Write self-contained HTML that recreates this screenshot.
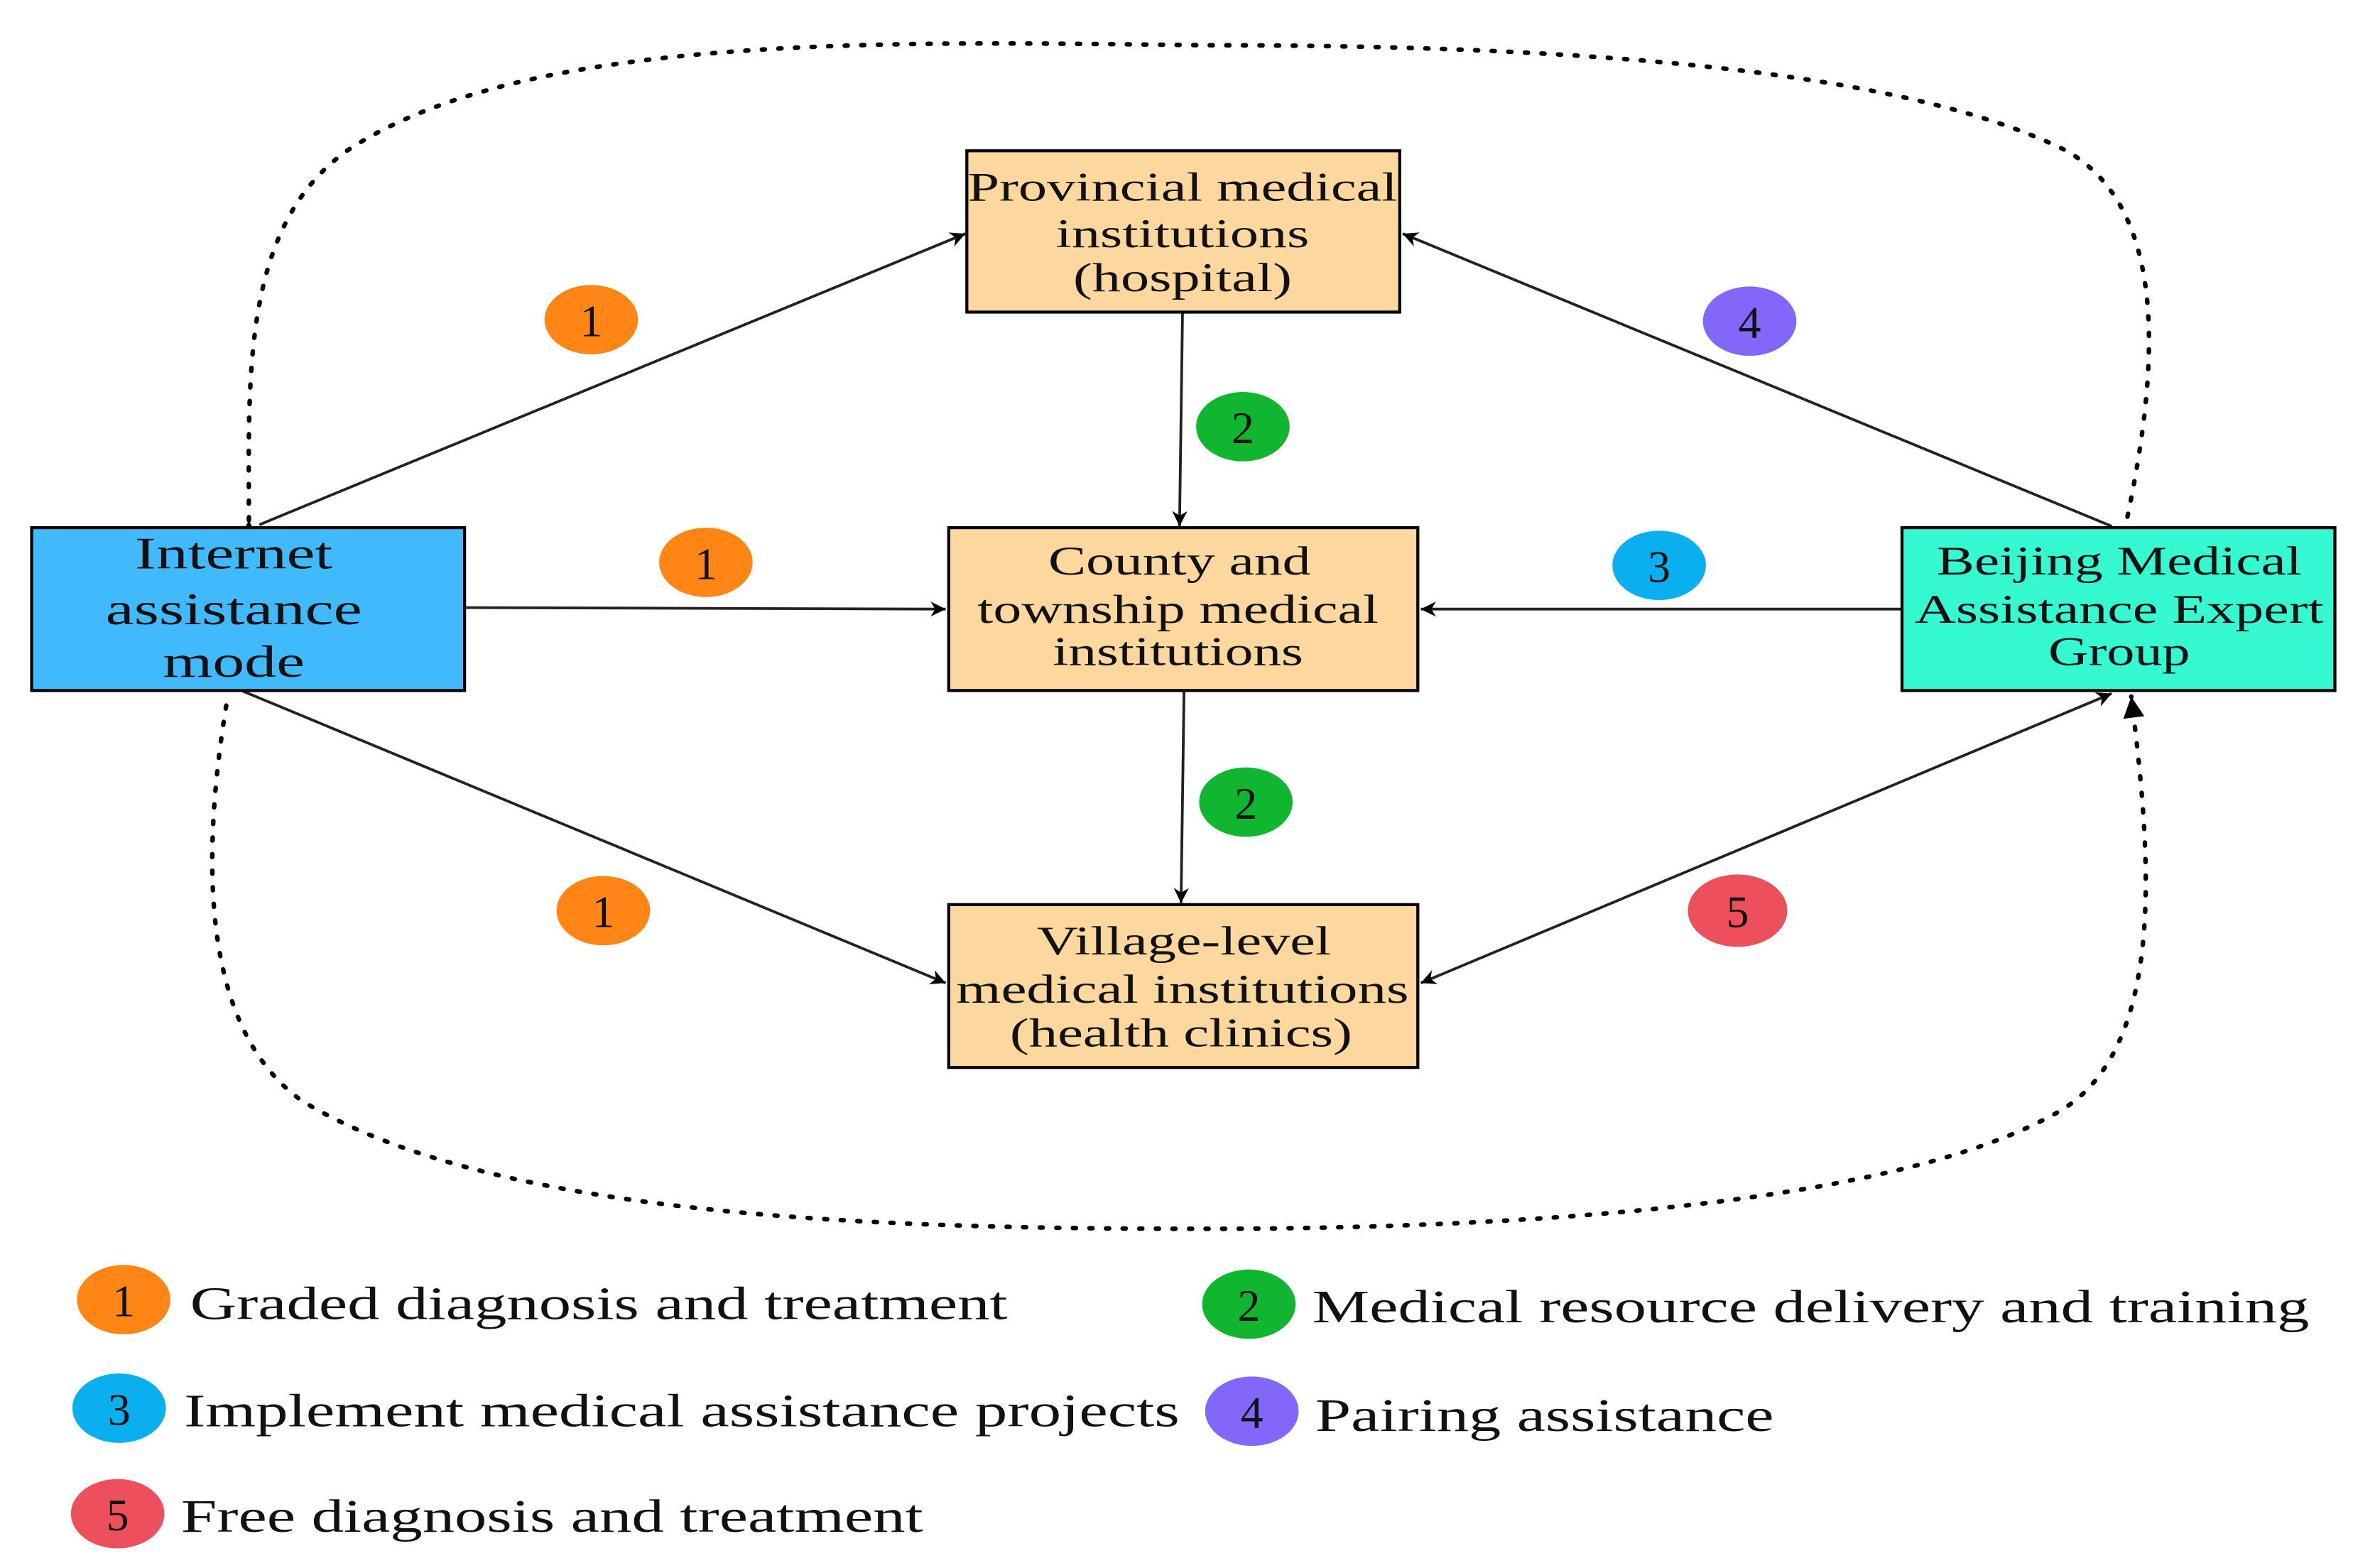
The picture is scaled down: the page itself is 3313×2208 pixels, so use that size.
<!DOCTYPE html>
<html><head><meta charset="utf-8"><style>html,body{margin:0;padding:0;background:#fff}svg{display:block}</style></head>
<body>
<svg width="3313" height="2208" viewBox="0 0 1560 1040" preserveAspectRatio="none" xmlns="http://www.w3.org/2000/svg" font-family="Liberation Serif, serif">
<defs>
<marker id="a" viewBox="0 0 10 10" refX="10" refY="5" markerWidth="10" markerHeight="10" markerUnits="userSpaceOnUse" orient="auto-start-reverse"><path d="M0,0 L10,5 L0,10 L3,5 z" fill="#000"/></marker>
<marker id="b" viewBox="0 0 10 10" refX="10" refY="5" markerWidth="14" markerHeight="14" markerUnits="userSpaceOnUse" orient="auto"><path d="M0,0 L10,5 L0,10 z" fill="#000"/></marker>
</defs>
<path d="M165,345 C165,250 160,150 230,100 C350,20 600,28 800,30 C1000,30 1250,40 1370,100 C1440,140 1430,250 1410,345" fill="none" stroke="#000" stroke-width="3" stroke-dasharray="2,9" stroke-linecap="round" marker-start="url(#b)"/>
<path d="M150,468 C135,560 130,680 200,730 C330,810 600,815 800,815 C1000,815 1250,800 1360,740 C1440,700 1425,560 1413,462" fill="none" stroke="#000" stroke-width="3" stroke-dasharray="2,9" stroke-linecap="round" marker-end="url(#b)"/>
<g stroke="#222" stroke-width="1.8" fill="none">
<line x1="172" y1="348" x2="640" y2="155" marker-end="url(#a)"/>
<line x1="308" y1="403" x2="627" y2="404" marker-end="url(#a)"/>
<line x1="160" y1="458" x2="627" y2="652" marker-end="url(#a)"/>
<line x1="784" y1="207" x2="782" y2="349" marker-end="url(#a)"/>
<line x1="785" y1="458" x2="783" y2="599" marker-end="url(#a)"/>
<line x1="1261" y1="404" x2="942" y2="404" marker-end="url(#a)"/>
<line x1="1400" y1="349" x2="930" y2="155" marker-end="url(#a)"/>
<line x1="1400" y1="460" x2="942" y2="652" marker-end="url(#a)" marker-start="url(#a)"/>
</g>
<g stroke="#000" stroke-width="2">
<rect x="641" y="100" width="287" height="107" fill="#FDD89E"/>
<rect x="629" y="350" width="311" height="108" fill="#FDD89E"/>
<rect x="629" y="600" width="311" height="108" fill="#FDD89E"/>
<rect x="21" y="350" width="287" height="108" fill="#41BAFD"/>
<rect x="1261" y="350" width="287" height="108" fill="#35F9D0"/>
</g>
<g font-size="27" text-anchor="middle" fill="#111" lengthAdjust="spacingAndGlyphs">
<text x="784" y="133" textLength="285" lengthAdjust="spacingAndGlyphs">Provincial medical</text><text x="784" y="164" textLength="168" lengthAdjust="spacingAndGlyphs">institutions</text><text x="784" y="193" textLength="145" lengthAdjust="spacingAndGlyphs">(hospital)</text>
<text x="782" y="381" textLength="174" lengthAdjust="spacingAndGlyphs">County and</text><text x="781" y="413" textLength="266" lengthAdjust="spacingAndGlyphs">township medical</text><text x="781" y="441" textLength="166" lengthAdjust="spacingAndGlyphs">institutions</text>
<text x="785" y="633" textLength="195" lengthAdjust="spacingAndGlyphs">Village-level</text><text x="784" y="665" textLength="300" lengthAdjust="spacingAndGlyphs">medical institutions</text><text x="783" y="694" textLength="227" lengthAdjust="spacingAndGlyphs">(health clinics)</text>
<text x="1405" y="381" textLength="242" lengthAdjust="spacingAndGlyphs">Beijing Medical</text><text x="1405" y="413" textLength="271" lengthAdjust="spacingAndGlyphs">Assistance Expert</text><text x="1405" y="441" textLength="94" lengthAdjust="spacingAndGlyphs">Group</text>
<text x="155" y="377" font-size="30" textLength="131" lengthAdjust="spacingAndGlyphs">Internet</text><text x="155" y="414" font-size="30" textLength="170" lengthAdjust="spacingAndGlyphs">assistance</text><text x="155" y="449" font-size="30" textLength="94" lengthAdjust="spacingAndGlyphs">mode</text>
</g>
<g font-size="30" text-anchor="middle" fill="#111">
<ellipse cx="392" cy="212" rx="31" ry="23" fill="#FF8514"/><text x="392" y="223">1</text>
<ellipse cx="468" cy="373" rx="31" ry="23" fill="#FF8514"/><text x="468" y="384">1</text>
<ellipse cx="400" cy="604" rx="31" ry="23" fill="#FF8514"/><text x="400" y="615">1</text>
<ellipse cx="824" cy="283" rx="31" ry="23" fill="#10B530"/><text x="824" y="294">2</text>
<ellipse cx="826" cy="532" rx="31" ry="23" fill="#10B530"/><text x="826" y="543">2</text>
<ellipse cx="1100" cy="375" rx="31" ry="23" fill="#0AAFF0"/><text x="1100" y="386">3</text>
<ellipse cx="1160" cy="213" rx="31" ry="23" fill="#8366FA"/><text x="1160" y="224">4</text>
<ellipse cx="1152" cy="604" rx="33" ry="24" fill="#EE4F5C"/><text x="1152" y="615">5</text>
<ellipse cx="82" cy="862" rx="31" ry="23" fill="#FF8514"/><text x="82" y="873">1</text>
<ellipse cx="828" cy="865" rx="31" ry="23" fill="#10B530"/><text x="828" y="876">2</text>
<ellipse cx="79" cy="934" rx="31" ry="23" fill="#0AAFF0"/><text x="79" y="945">3</text>
<ellipse cx="830" cy="936" rx="31" ry="23" fill="#8366FA"/><text x="830" y="947">4</text>
<ellipse cx="78" cy="1004" rx="31" ry="23" fill="#EE4F5C"/><text x="78" y="1015">5</text>
</g>
<g font-size="31" fill="#111">
<text x="126" y="875" textLength="542" lengthAdjust="spacingAndGlyphs">Graded diagnosis and treatment</text>
<text x="870" y="877" textLength="661" lengthAdjust="spacingAndGlyphs">Medical resource delivery and training</text>
<text x="122" y="946" textLength="660" lengthAdjust="spacingAndGlyphs">Implement medical assistance projects</text>
<text x="872" y="949" textLength="304" lengthAdjust="spacingAndGlyphs">Pairing assistance</text>
<text x="120" y="1016" textLength="492" lengthAdjust="spacingAndGlyphs">Free diagnosis and treatment</text>
</g>
</svg>
</body></html>
